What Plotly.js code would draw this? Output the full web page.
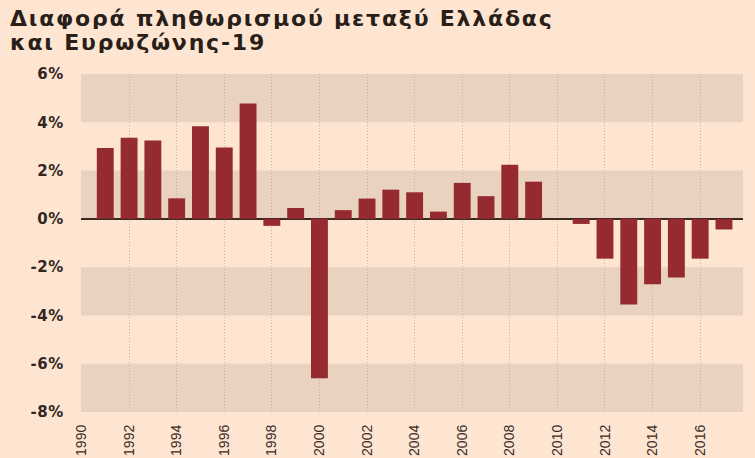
<!DOCTYPE html>
<html>
<head>
<meta charset="utf-8">
<script src="https://cdn.plot.ly/plotly-3.0.1.min.js"></script>
<style>
html,body{margin:0;padding:0;background:#fde5d2;}
#chart{width:755px;height:458px;}
.annotation-text{letter-spacing:1.8px;}
.ytick text{letter-spacing:0.6px;}
</style>
</head>
<body>
<div id="chart"></div>
<script>
const years = [1991,1992,1993,1994,1995,1996,1997,1998,1999,2000,2001,2002,2003,2004,2005,2006,2007,2008,2009,2010,2011,2012,2013,2014,2015,2016,2017];
const diff = [2.93,3.36,3.25,0.85,3.84,2.96,4.78,-0.29,0.45,-6.6,0.36,0.84,1.21,1.1,0.3,1.49,0.94,2.24,1.54,null,-0.21,-1.65,-3.55,-2.71,-2.43,-1.65,-0.44];
const xTickVals = [1990,1992,1994,1996,1998,2000,2002,2004,2006,2008,2010,2012,2014,2016];
const yTickVals = [-8,-6,-4,-2,0,2,4,6];
const titleLines = ["Διαφορά πληθωρισμού μεταξύ Ελλάδας","και Ευρωζώνης-19"];
const bands = [[4,6],[0,2],[-4,-2],[-8,-6]];

const shapes = bands.map(b => ({
  type:'rect', xref:'paper', yref:'y', x0:0, x1:1, y0:b[0], y1:b[1],
  fillcolor:'#e9d2bf', line:{width:0}, layer:'below'
}));

const trace = {
  type:'bar', x:years, y:diff,
  marker:{color:'#962a31', line:{width:0}},
  hoverinfo:'x+y'
};

const layout = {
  width:755, height:458,
  paper_bgcolor:'#fde5d2', plot_bgcolor:'#fde5d2',
  margin:{l:81, r:12, t:74, b:46},
  bargap:0.29,
  showlegend:false,
  xaxis:{
    type:'linear', range:[1989.98,2017.8],
    tickvals:xTickVals, ticktext:xTickVals.map(String),
    tickangle:-90,
    showgrid:true, gridcolor:'#c4b2a2', griddash:'1px,2px', gridwidth:1,
    zeroline:false, showline:false,
    ticks:'', ticklabelstandoff:9,
    tickfont:{family:'Liberation Sans Narrow, Liberation Sans, sans-serif', size:14, color:'#3a2d26'}
  },
  yaxis:{
    range:[-8,6], tickvals:yTickVals, ticktext:yTickVals.map(v=>v+'%'),
    showgrid:false, zeroline:true, zerolinecolor:'#3b2a22', zerolinewidth:2,
    showline:false, ticks:'', ticklabelstandoff:16,
    tickfont:{family:'DejaVu Sans, sans-serif', size:15, color:'#33261f', weight:'bold'}
  },
  shapes:shapes,
  annotations:titleLines.map((t,i)=>({
    text:'<b>'+t+'</b>', xref:'paper', yref:'paper', x:-81/662, xshift:8,
    y:1, yshift:74-18-i*24, xanchor:'left', yanchor:'middle', valign:'middle',
    height:22, showarrow:false,
    font:{family:'DejaVu Sans, sans-serif', size:22, color:'#2a1e18'}
  }))
};

Plotly.newPlot('chart',[trace],layout,{displayModeBar:false,staticPlot:true});
</script>
</body>
</html>
